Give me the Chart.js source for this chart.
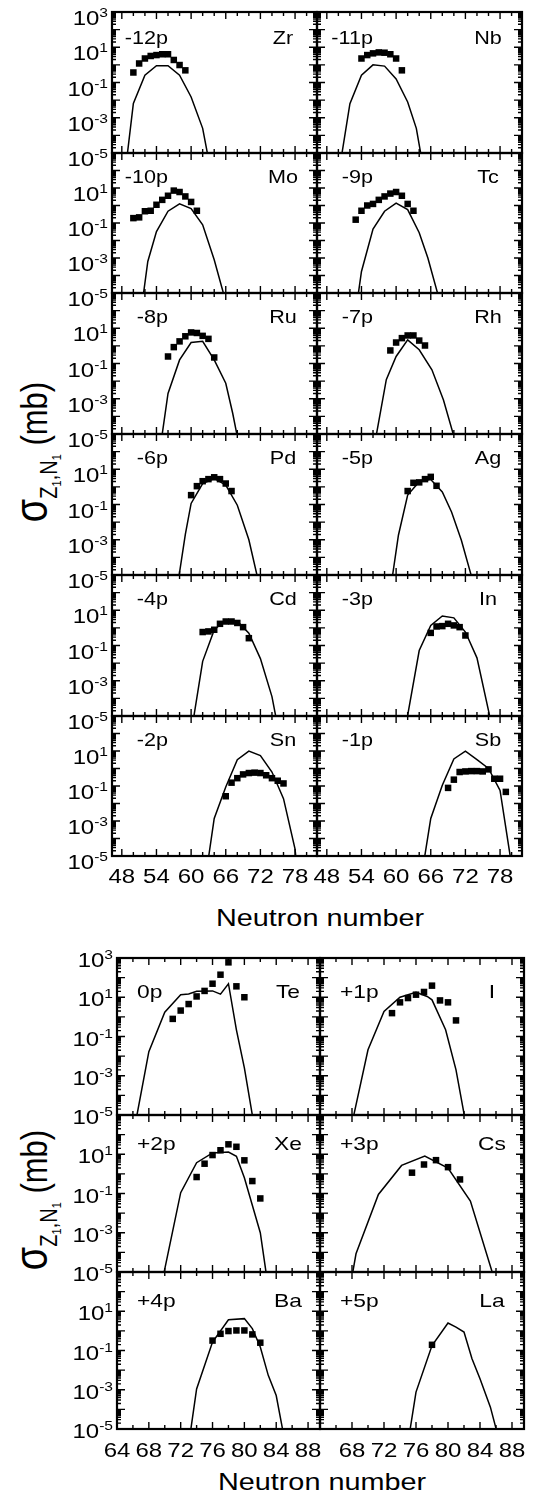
<!DOCTYPE html>
<html>
<head>
<meta charset="utf-8">
<script src="https://cdn.jsdelivr.net/npm/chart.js@4.4.1/dist/chart.umd.min.js"></script>
<style>
  body { margin: 0; background: #fff; width: 535px; height: 1499px; position: relative; overflow: hidden;
         font-family: Arial, "Liberation Sans", sans-serif; color: #000; }
  canvas { position: absolute; }
  .xtitle { position: absolute; transform: translate(-50%, -50%) scaleX(1.2); font-size: 24px; white-space: nowrap; }
  .ytitle { position: absolute; transform: translate(-50%, -50%) scaleX(1.2) rotate(-90deg); font-size: 31px; white-space: nowrap; }
  .sig { font-size: 38px; }
  .s1 { font-size: 20px; position: relative; top: 8px; }
  .s2 { font-size: 11px; position: relative; top: 4px; }
</style>
</head>
<body>
<div class="ytitle" style="left:32px; top:452px"><span class="sig">σ</span><span class="s1">Z<span class="s2">1</span>,N<span class="s2">1</span></span> (mb)</div>
<div class="xtitle" style="left:320px; top:918px">Neutron number</div>
<div class="ytitle" style="left:32px; top:1200px"><span class="sig">σ</span><span class="s1">Z<span class="s2">1</span>,N<span class="s2">1</span></span> (mb)</div>
<div class="xtitle" style="left:322px; top:1482px">Neutron number</div>

<script>
// ---- upper figure: -12p ... -1p ----
const upperShifts = ['-12p', '-11p', '-10p', '-9p', '-8p', '-7p', '-6p', '-5p', '-4p', '-3p', '-2p', '-1p'];
const upperElements = ['Zr', 'Nb', 'Mo', 'Tc', 'Ru', 'Rh', 'Pd', 'Ag', 'Cd', 'In', 'Sn', 'Sb'];

// measured cross sections (squares)
const upperExpN = [
  [50, 51, 52, 53, 54, 55, 56, 57, 58, 59],
  [54, 55, 56, 57, 58, 59, 60, 61],
  [50, 51, 52, 53, 54, 55, 56, 57, 58, 59, 60, 61],
  [53, 54, 55, 56, 57, 58, 59, 60, 61, 62, 63],
  [56, 57, 58, 59, 60, 61, 62, 63, 64],
  [59, 60, 61, 62, 63, 64, 65],
  [60, 61, 62, 63, 64, 65, 66, 67],
  [62, 63, 64, 65, 66, 67],
  [62, 63, 64, 65, 66, 67, 68, 69, 70],
  [66, 67, 68, 69, 70, 71, 72],
  [66, 67, 68, 69, 70, 71, 72, 73, 74, 75, 76],
  [69, 70, 71, 72, 73, 74, 75, 76, 77, 78, 79]
];
const upperExpSigma = [
  [0.37, 1.2, 2.3, 3.2, 3.6, 4.0, 4.0, 1.9, 0.98, 0.49],
  [2.3, 3.6, 4.5, 5.1, 4.9, 4.0, 2.3, 0.49],
  [0.19, 0.21, 0.47, 0.5, 1.1, 2.1, 3.6, 7.1, 5.9, 3.3, 1.6, 0.5],
  [0.155, 0.5, 1.0, 1.23, 2.1, 3.3, 4.8, 5.9, 3.6, 1.23, 0.5],
  [0.25, 0.85, 1.8, 3.5, 5.8, 5.4, 3.7, 2.5, 0.22],
  [0.55, 1.55, 2.75, 3.9, 3.9, 2.0, 1.05],
  [0.34, 1.1, 2.1, 2.75, 3.5, 2.75, 1.55, 0.58],
  [0.58, 1.7, 1.8, 2.75, 3.7, 1.15],
  [0.58, 0.63, 0.78, 1.7, 2.3, 2.3, 1.9, 1.1, 0.26],
  [0.52, 1.2, 1.26, 1.7, 1.38, 1.1, 0.37],
  [0.026, 0.155, 0.28, 0.46, 0.55, 0.58, 0.55, 0.41, 0.28, 0.2, 0.14],
  [0.078, 0.23, 0.63, 0.68, 0.71, 0.71, 0.68, 0.89, 0.26, 0.26, 0.046]
];

// calculation (solid line)
const upperCalcN = [
  [48, 50, 52, 54, 56, 58, 60, 62, 64],
  [50, 52, 54, 56, 58, 60, 62, 63.5, 65],
  [51, 52.5, 54, 56, 58, 60, 62, 64, 66],
  [53, 54, 56, 58, 60, 62, 64, 65.5, 67.5],
  [54, 56, 58, 60, 62, 64, 66, 67.2, 69],
  [56, 58.3, 60, 62, 64, 66.2, 68.2, 70.5],
  [57, 59, 60, 62, 64, 66, 68, 70, 72],
  [59, 60.4, 62, 64, 66, 68, 69.6, 71.3, 73.5],
  [60, 62, 64, 66, 68, 70, 72, 74, 75],
  [61, 64, 66, 68, 70, 72, 74, 76, 77],
  [62, 64, 66, 68, 70, 72, 74, 76, 78, 79],
  [64, 66, 68, 70, 72, 74, 76, 78, 80]
];
const upperCalcSigma = [
  [2e-8, 6.5e-3, 0.26, 0.89, 0.89, 0.26, 0.015, 2.5e-4, 9e-8],
  [5e-7, 6.3e-3, 0.26, 1.0, 0.85, 0.16, 7.9e-3, 2.5e-4, 4e-7],
  [1.3e-7, 6.3e-4, 0.032, 0.47, 1.23, 0.66, 0.079, 7.9e-4, 3.2e-6],
  [7.9e-7, 1.7e-4, 0.045, 0.47, 1.38, 0.58, 0.028, 1e-3, 4e-6],
  [5e-8, 2e-3, 0.16, 1.55, 1.8, 0.16, 7.6e-3, 1.5e-4, 1.6e-7],
  [8e-7, 0.012, 0.25, 2.2, 0.6, 0.044, 8.5e-4, 2e-6],
  [1e-7, 2e-3, 0.115, 1.55, 3.0, 1.26, 0.091, 1e-3, 1.4e-6],
  [1.3e-6, 1.8e-3, 0.34, 1.95, 2.6, 0.52, 0.038, 9.3e-4, 2.5e-6],
  [1e-6, 0.0126, 0.76, 2.9, 2.4, 0.5, 0.018, 1.26e-4, 2.5e-6],
  [1.6e-7, 0.052, 1.38, 4.7, 3.7, 0.58, 0.02, 2e-5, 5e-7],
  [4e-8, 1.4e-3, 0.087, 3.2, 9.8, 5.5, 0.63, 0.019, 2.5e-5, 1e-8],
  [1e-7, 1.4e-3, 0.11, 3.5, 9.8, 3.2, 1.0, 0.056, 3e-6]
];
const upperXTicks = [48, 54, 60, 66, 72, 78];

// ---- lower figure: 0p ... +5p ----
const lowerShifts = ['0p', '+1p', '+2p', '+3p', '+4p', '+5p'];
const lowerElements = ['Te', 'I', 'Xe', 'Cs', 'Ba', 'La'];
const lowerExpN = [
  [71, 72, 73, 74, 75, 76, 77, 78, 79, 80],
  [73, 74, 75, 76, 77, 78, 79, 80, 81],
  [74, 75, 76, 77, 78, 79, 80, 81, 82],
  [75.5, 77, 78.5, 80, 81.5],
  [76, 77, 78, 79, 80, 81, 82],
  [78]
];
const lowerExpSigma = [
  [0.79, 2.1, 4.5, 11, 21, 49, 141, 600, 36, 10],
  [1.55, 5.5, 9.1, 13.5, 18.6, 39, 6.9, 5.5, 0.66],
  [0.69, 3.3, 9.1, 16, 32, 24, 4.9, 0.43, 0.056],
  [1.15, 3.0, 5.0, 2.2, 0.52],
  [0.32, 0.71, 0.98, 1.05, 1.05, 0.66, 0.25],
  [0.195]
];
const lowerCalcN = [
  [66, 68, 70, 72, 73, 74, 76, 77, 78, 79, 80, 81.5],
  [67, 70, 72, 74, 76, 77.4, 78, 79.7, 81, 82.5],
  [69, 72, 74, 76, 78, 79, 80, 82, 83],
  [67.5, 68.5, 71.3, 74.2, 77.1, 80, 82.8, 86.5],
  [73, 74, 76, 78, 80, 81, 82, 83, 84, 85.5],
  [75, 76, 78, 80, 81, 82, 83, 84, 85.3, 87]
];
const lowerCalcSigma = [
  [8e-7, 0.017, 1.74, 13.5, 14.5, 20, 21, 14.5, 49, 0.22, 2.5e-3, 6.3e-7],
  [5e-8, 0.021, 1.9, 10, 17.8, 11, 7.4, 0.22, 2e-3, 9e-7],
  [1.6e-7, 0.11, 3.7, 11.7, 12.9, 7.9, 0.63, 1e-3, 1.6e-6],
  [4e-7, 8.5e-5, 0.089, 2.7, 8.1, 2.0, 0.041, 5e-7],
  [1.6e-6, 1.1e-3, 0.27, 3.7, 4.2, 1.3, 0.15, 5.4e-3, 5.1e-4, 3e-7],
  [2e-6, 7.6e-4, 0.18, 2.5, 1.55, 0.87, 0.038, 3.6e-3, 1.3e-4, 3e-7]
];
const lowerXTicksLeft = [64, 68, 72, 76, 80, 84, 88];
const lowerXTicksRight = [68, 72, 76, 80, 84, 88];

const yLabelExps = [1, -1, -3, -5];
const yTopLabelExps = [3, 1, -1, -3, -5];

// ---- layout ----
const FONT = 'Arial, "Liberation Sans", sans-serif';
const SX = 1.2; // the source figure's lettering is horizontally widened
const upperLayout = { rows: [12, 153, 293, 434, 575, 716, 856], cols: [112, 317, 522],
  xMin: 46.3, xMax: 81.8, xMajor: 6, tickFont: 20, supFont: 13, textFont: 18, yDy: 6, xDy: 21,
  shiftAlign: 'right', shiftX: 56, textY: [32, 30, 30, 30, 30, 30], elemX: 34 };
const lowerLayout = { rows: [958, 1115, 1272, 1429], cols: [117, 320, 524],
  xMin: 64, xMax: 89.5, xMajor: 4, tickFont: 20, supFont: 13, textFont: 19, yDy: 2, xDy: 22,
  shiftAlign: 'left', shiftX: 20, textY: [40, 35, 35], elemX: 32 };
const PAD = { left: 110, top: 16, right: 12, bottom: 46 };

function wideText(ctx, text, x, y, align) {
  const w = ctx.measureText(text).width * SX;
  const x0 = align === 'center' ? x - w / 2 : align === 'right' ? x - w : x;
  ctx.save();
  ctx.translate(x0, y);
  ctx.scale(SX, 1);
  ctx.textAlign = 'left';
  ctx.fillText(text, 0, 0);
  ctx.restore();
  return w;
}

function drawPow(ctx, exp, xRight, yMid, big, small) {
  const sup = String(exp);
  ctx.textBaseline = 'alphabetic';
  ctx.font = small + 'px ' + FONT;
  const ws = ctx.measureText(sup).width * SX;
  const digitTop = yMid - big * 0.358;
  wideText(ctx, sup, xRight, digitTop + small * 0.716 - 3, 'right');
  ctx.font = big + 'px ' + FONT;
  wideText(ctx, '10', xRight - ws, yMid + big * 0.358, 'right');
}

const panelFrame = {
  id: 'panelFrame',
  afterDraw(chart, args, o) {
    const { ctx, chartArea: a, scales: { x, y } } = chart;
    ctx.save();
    ctx.strokeStyle = '#000';
    ctx.fillStyle = '#000';

    // inward ticks on all four sides
    ctx.lineWidth = 1.4;
    ctx.beginPath();
    for (let v = Math.ceil(x.min / 2) * 2; v <= x.max; v += 2) {
      const px = x.getPixelForValue(v);
      const len = v % o.xMajor === 0 ? 7 : 4;
      ctx.moveTo(px, a.bottom); ctx.lineTo(px, a.bottom - len);
      ctx.moveTo(px, a.top); ctx.lineTo(px, a.top + len);
    }
    for (let e = -5; e <= 3; e++) {
      for (let k = 1; k <= 9; k++) {
        if (e === 3 && k > 1) break;
        const py = y.getPixelForValue(k * Math.pow(10, e));
        const len = k === 1 ? 8 : 4;
        ctx.moveTo(a.left, py); ctx.lineTo(a.left + len, py);
        ctx.moveTo(a.right, py); ctx.lineTo(a.right - len, py);
      }
    }
    ctx.stroke();

    // frame
    ctx.lineWidth = 2.2;
    ctx.strokeRect(a.left, a.top, a.right - a.left, a.bottom - a.top);

    // y tick labels
    (o.yLabels || []).forEach(e => {
      drawPow(ctx, e, a.left - 4, y.getPixelForValue(Math.pow(10, e)) + o.yDy, o.tickFont, o.supFont);
    });
    // x tick labels
    ctx.font = o.tickFont + 'px ' + FONT;
    ctx.textBaseline = 'middle';
    (o.xLabels || []).forEach(v => {
      wideText(ctx, String(v), x.getPixelForValue(v), a.bottom + o.xDy, 'center');
    });

    // panel annotations
    ctx.font = o.textFont + 'px ' + FONT;
    ctx.textBaseline = 'alphabetic';
    wideText(ctx, o.shift, a.left + o.shiftX, a.top + o.textY, o.shiftAlign);
    wideText(ctx, o.element, a.right - o.elemX, a.top + o.textY, 'center');
    ctx.restore();
  }
};

function makePanel(L, row, col, shift, element, expN, expS, calcN, calcS, xLabels, yLabels) {
  const left = L.cols[col], right = L.cols[col + 1];
  const top = L.rows[row], bottom = L.rows[row + 1];
  const cv = document.createElement('canvas');
  const w = right - left + PAD.left + PAD.right;
  const h = bottom - top + PAD.top + PAD.bottom;
  cv.width = w; cv.height = h;
  cv.style.width = w + 'px'; cv.style.height = h + 'px';
  cv.style.left = (left - PAD.left) + 'px';
  cv.style.top = (top - PAD.top) + 'px';
  document.body.appendChild(cv);

  new Chart(cv, {
    type: 'scatter',
    data: {
      datasets: [
        {
          data: calcN.map((n, i) => ({ x: n, y: calcS[i] })),
          showLine: true, borderColor: '#000', borderWidth: 1.5, pointRadius: 0, tension: 0
        },
        {
          data: expN.map((n, i) => ({ x: n, y: expS[i] })),
          pointStyle: 'rect', pointRadius: 4.6, backgroundColor: '#000', borderColor: '#000', borderWidth: 0
        }
      ]
    },
    options: {
      responsive: false, animation: false, devicePixelRatio: 1, events: [],
      layout: { padding: PAD },
      scales: {
        x: { type: 'linear', min: L.xMin, max: L.xMax, display: false },
        y: { type: 'logarithmic', min: 1e-5, max: 1e3, display: false }
      },
      plugins: {
        legend: { display: false },
        tooltip: { enabled: false },
        panelFrame: {
          xMajor: L.xMajor, tickFont: L.tickFont, supFont: L.supFont, textFont: L.textFont,
          yDy: L.yDy, xDy: L.xDy,
          shift, element, shiftAlign: L.shiftAlign, shiftX: L.shiftX, elemX: L.elemX,
          textY: L.textY[row], xLabels, yLabels
        }
      }
    },
    plugins: [panelFrame]
  });
}

upperShifts.forEach((s, i) => {
  const row = Math.floor(i / 2), col = i % 2;
  makePanel(upperLayout, row, col, s, upperElements[i],
    upperExpN[i], upperExpSigma[i], upperCalcN[i], upperCalcSigma[i],
    row === 5 ? upperXTicks : null,
    col === 0 ? (row === 0 ? yTopLabelExps : yLabelExps) : null);
});

lowerShifts.forEach((s, i) => {
  const row = Math.floor(i / 2), col = i % 2;
  makePanel(lowerLayout, row, col, s, lowerElements[i],
    lowerExpN[i], lowerExpSigma[i], lowerCalcN[i], lowerCalcSigma[i],
    row === 2 ? (col === 0 ? lowerXTicksLeft : lowerXTicksRight) : null,
    col === 0 ? (row === 0 ? yTopLabelExps : yLabelExps) : null);
});
</script>
</body>
</html>
